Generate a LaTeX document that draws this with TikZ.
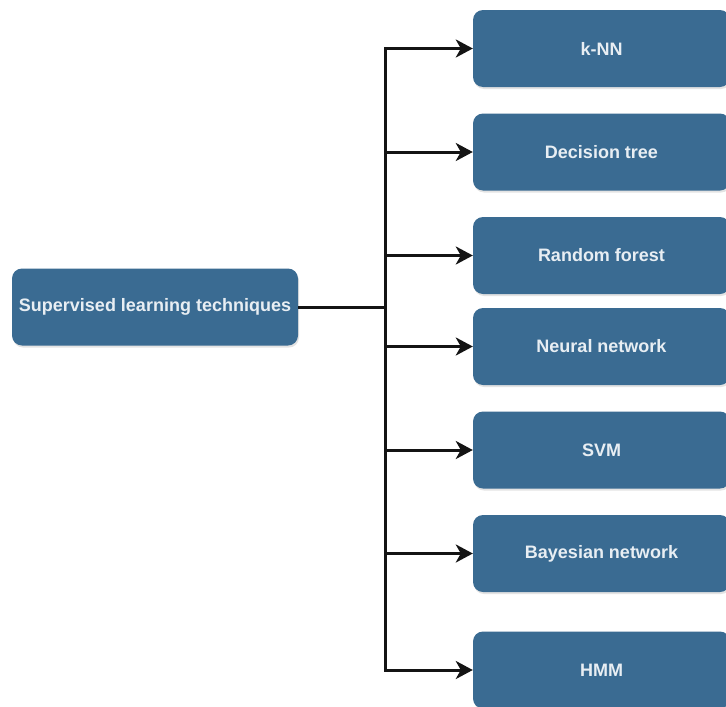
\documentclass[tikz,border=0pt]{standalone}
\usepackage{fontspec}
\setmainfont{Liberation Sans}
\usetikzlibrary{arrows.meta,shadows}
\definecolor{boxblue}{RGB}{58,107,146}
\definecolor{boxtext}{RGB}{232,238,243}
\definecolor{linek}{RGB}{20,20,20}
\tikzset{
  techbox/.style={draw=none, fill=boxblue, rounded corners=10pt,
    minimum height=77pt, text=boxtext, font=\fontsize{18}{20}\selectfont\bfseries,
    drop shadow={opacity=0.22, shadow xshift=1pt, shadow yshift=-2pt}},
  leafbox/.style={techbox, minimum width=257pt},
  link/.style={line width=3pt, draw=linek},
  linkarrow/.style={link, -{Stealth[length=17pt,width=18pt,inset=5pt]}}
}
\begin{document}
\begin{tikzpicture}[x=1pt,y=-1pt]
  \useasboundingbox[fill=white] (0,0) rectangle (726,707);
  % root node
  \node[techbox, minimum width=286pt] (root) at (155,307) {Supervised learning techniques};
  % leaf nodes
  \node[leafbox] (knn) at (601.5,48.5) {k-NN};
  \node[leafbox] (dt)  at (601.5,152)  {Decision tree};
  \node[leafbox] (rf)  at (601.5,255.5){Random forest};
  \node[leafbox] (nn)  at (601.5,346.5){Neural network};
  \node[leafbox] (svm) at (601.5,450)  {SVM};
  \node[leafbox] (bn)  at (601.5,553.5){Bayesian network};
  \node[leafbox] (hmm) at (601.5,670)  {HMM};
  % branching connectors
  \coordinate (J) at (385,307);
  \draw[link] (root.east) -- (J);
  \foreach \t in {knn,dt,rf,nn,svm,bn,hmm}
    \draw[linkarrow] (J) |- (\t.west);
\end{tikzpicture}
\end{document}
